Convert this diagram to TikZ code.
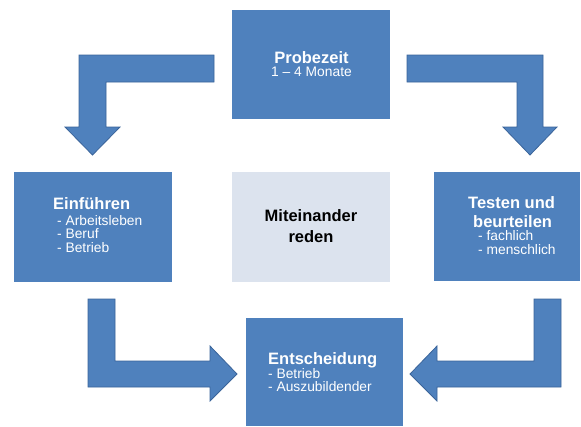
\documentclass[tikz,border=0pt]{standalone}
\usepackage{fontspec}
\setmainfont{Liberation Sans}
\definecolor{boxblue}{HTML}{4F81BD}
\definecolor{arrowline}{HTML}{3A649A}
\definecolor{lightbox}{HTML}{DCE3EE}
\newcommand\ttl[1]{{\fontsize{16.5}{16.5}\selectfont\bfseries #1}}
\tikzset{
  box/.style={fill=boxblue, draw=none, inner sep=0pt, outer sep=0pt},
  txt/.style={text=white, align=left, inner sep=0pt, anchor=north west,
              font=\fontsize{13.8}{13.5}\selectfont},
  blockarrow/.style={fill=boxblue, draw=arrowline, line width=0.8pt, line join=miter},
}
\begin{document}
\begin{tikzpicture}[x=1pt,y=-1pt]
\useasboundingbox[fill=white] (0,0) rectangle (581,426);

% boxes
\node[box, minimum width=158pt, minimum height=109pt] (prob) at (311,64.5) {};
\node[box, minimum width=158pt, minimum height=110pt] (ein) at (93,227) {};
\node[box, fill=lightbox, minimum width=158pt, minimum height=110pt] (mit) at (311,227) {};
\node[box, minimum width=146pt, minimum height=109pt] (test) at (507,226.5) {};
\node[box, minimum width=157pt, minimum height=108pt] (ent) at (324.5,372) {};

% texts
\node[txt, align=center, anchor=north] (probT) at (311.5,51.2)
  {\ttl{Probezeit}\\ 1 -- 4 Monate};
\node[txt] (einT) at (53,197.2)
  {\ttl{Einführen}\\[2.5pt]
   \hspace*{4pt}- Arbeitsleben\\
   \hspace*{4pt}- Beruf\\
   \hspace*{4pt}- Betrieb};
\node[txt, text=black, align=center, anchor=north, font=\fontsize{16.5}{21}\selectfont\bfseries]
  (mitT) at (311,209.2) {Miteinander\\reden};
\node[txt] (testT) at (468,196.2)
  {\ttl{Testen und}\\[5.5pt]
   \hspace*{5pt}\ttl{beurteilen}\\
   \hspace*{10pt}- fachlich\\
   \hspace*{10pt}- menschlich};
\node[txt] (entT) at (268,352.2)
  {\ttl{Entscheidung}\\[0.5pt]
   - Betrieb\\
   - Auszubildender};

% block arrows
\draw[blockarrow] (214,55) -- (79,55) -- (79,127) -- (65,127) -- (92.5,155)
  -- (120,127) -- (106,127) -- (106,82) -- (214,82) -- cycle;
\draw[blockarrow] (407,55) -- (543,55) -- (543,127) -- (557,127) -- (530,155)
  -- (503,127) -- (517,127) -- (517,82) -- (407,82) -- cycle;
\draw[blockarrow] (88,299) -- (115,299) -- (115,361) -- (210,361) -- (210,346)
  -- (237,374) -- (210,401) -- (210,387) -- (88,387) -- cycle;
\draw[blockarrow] (561,299) -- (534,299) -- (534,361) -- (437,361) -- (437,346)
  -- (410,374) -- (437,401) -- (437,387) -- (561,387) -- cycle;
\end{tikzpicture}
\end{document}
